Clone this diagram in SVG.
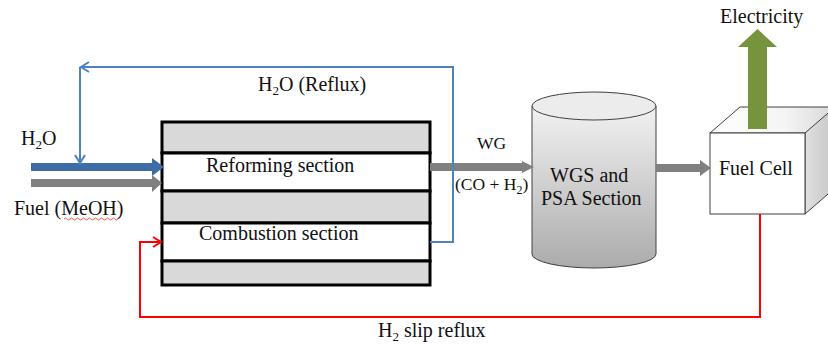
<svg xmlns="http://www.w3.org/2000/svg" width="828" height="344" viewBox="0 0 828 344">
<defs>
<style>
text{font-family:"Liberation Serif","Times New Roman",serif;font-size:20px;fill:#111}
.sm{font-size:17.5px}
.sub{font-size:13px}
.band{fill:#d9d9d9;stroke:#000;stroke-width:3}
.wband{fill:#fff;stroke:#000;stroke-width:3}
.blue{fill:none;stroke:#4F81BD;stroke-width:2}
.red{fill:none;stroke:#ff0000;stroke-width:2}
.edge{stroke:#404040;stroke-width:1}
</style>
<linearGradient id="cyl" x1="0" y1="0" x2="0" y2="1">
<stop offset="0" stop-color="#f2f2f2"/>
<stop offset="1" stop-color="#ababab"/>
</linearGradient>
<linearGradient id="side" x1="0" y1="0" x2="1" y2="0">
<stop offset="0" stop-color="#e0e0e0"/>
<stop offset="1" stop-color="#c4c4c4"/>
</linearGradient>
<linearGradient id="topf" x1="0" y1="0" x2="1" y2="0">
<stop offset="0" stop-color="#ffffff"/>
<stop offset="0.6" stop-color="#f4f4f4"/>
<stop offset="1" stop-color="#d8d8d8"/>
</linearGradient>
<marker id="chevB" markerWidth="12" markerHeight="12" refX="10" refY="6" orient="auto" markerUnits="userSpaceOnUse">
<path d="M2,1 L10,6 L2,11" fill="none" stroke="#4F81BD" stroke-width="2"/>
</marker>
<marker id="chevR" markerWidth="12" markerHeight="12" refX="10" refY="6" orient="auto" markerUnits="userSpaceOnUse">
<path d="M2,1 L10,6 L2,11" fill="none" stroke="#ff0000" stroke-width="2"/>
</marker>
</defs>
<rect width="828" height="344" fill="#fff"/>

<g id="reactor">
<rect class="band" x="162" y="122" width="268" height="31"/>
<rect class="wband" x="162" y="153" width="268" height="38"/>
<rect class="band" x="162" y="191" width="268" height="32"/>
<rect class="wband" x="162" y="223" width="268" height="38"/>
<rect class="band" x="162" y="261" width="268" height="24"/>
<text x="206" y="172">Reforming section</text>
<text x="199" y="240">Combustion section</text>
</g>

<g id="wgs-psa">
<path d="M532,106 V254 A62,14 0 0 0 656,254 V106 Z" fill="url(#cyl)" class="edge"/>
<ellipse cx="594" cy="106" rx="62" ry="14" fill="#ececec" class="edge"/>
<text x="550" y="182">WGS and</text>
<text x="541" y="205">PSA Section</text>
</g>

<g id="fuel-cell">
<polygon points="710,133 740,107 836,107 806,133" fill="url(#topf)" class="edge"/>
<polygon points="805,133 835,107 835,188 805,214" fill="url(#side)" class="edge"/>
<rect x="710" y="133" width="95" height="81" fill="#fff" class="edge"/>
<text x="719" y="175">Fuel Cell</text>
</g>

<g id="electricity">
<polygon points="748,129 748,47 738,47 757.5,29 777,47 767,47 767,129" fill="#77933C"/>
<text x="720" y="23">Electricity</text>
</g>

<g id="labels">
<text x="21" y="145">H<tspan class="sub" dy="4">2</tspan><tspan dy="-4">O</tspan></text>
<text x="14" y="215">Fuel (MeOH)</text>
<path d="M64,219 q1.5,-2 3,0 t3,0 t3,0 t3,0 t3,0 t3,0 t3,0 t3,0 t3,0 t3,0 t3,0 t3,0 t3,0 t3,0 t3,0 t3,0 t3,0 t3,0" fill="none" stroke="#e03030" stroke-width="0.8"/>
<text x="258" y="91">H<tspan class="sub" dy="4">2</tspan><tspan dy="-4">O (Reflux)</tspan></text>
<text class="sm" x="477" y="149">WG</text>
<text class="sm" x="455" y="190">(CO + H<tspan font-size="12" dy="4">2</tspan><tspan dy="-4">)</tspan></text>
<text x="378" y="337">H<tspan class="sub" dy="4">2</tspan><tspan dy="-4"> slip reflux</tspan></text>
</g>

<g id="connectors">
<polygon points="31,163 152,163 152,158 164,167 152,176 152,171 31,171" fill="#3E6DA6"/>
<polygon points="31,179 152,179 152,175 162,183 152,192 152,187 31,187" fill="#808080"/>
<polygon points="430,163 522,163 522,161 534,167 522,173 522,171 430,171" fill="#808080"/>
<polygon points="656,164 700,164 700,160 711,168 700,176 700,172 656,172" fill="#808080"/>
<path class="blue" d="M430,242 H453 V67 H81" marker-end="url(#chevB)"/>
<path class="blue" d="M80,67 V163" marker-end="url(#chevB)"/>
<path class="red" d="M760,214 V317 H140 V242 H161" marker-end="url(#chevR)"/>
</g>
</svg>
